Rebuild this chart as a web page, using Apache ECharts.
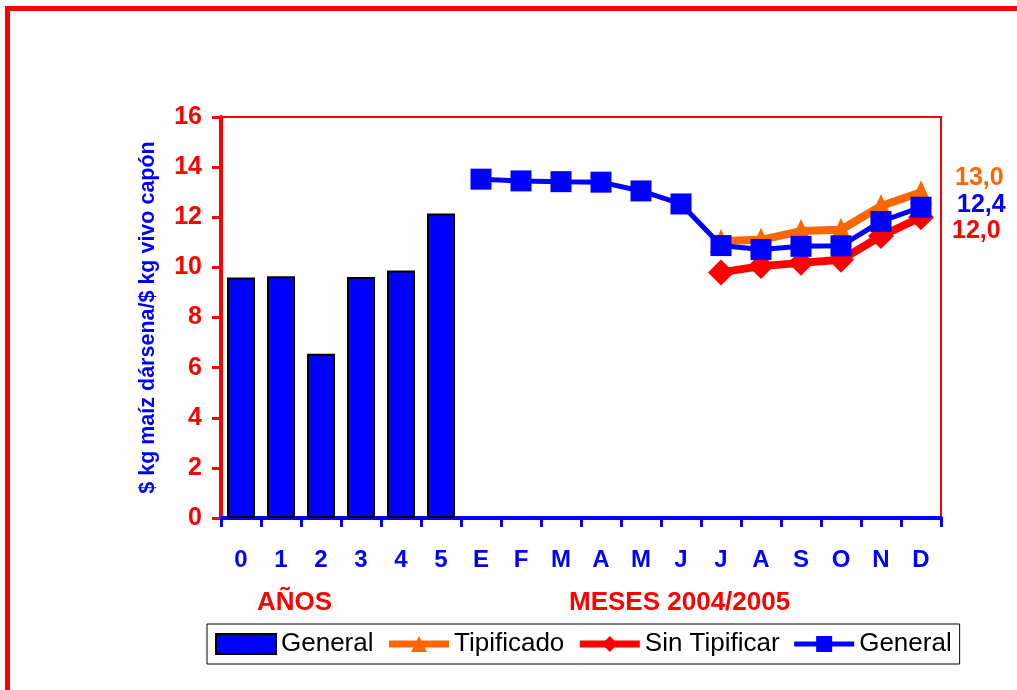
<!DOCTYPE html>
<html><head><meta charset="utf-8">
<script src="https://cdn.jsdelivr.net/npm/echarts@6/dist/echarts.min.js"></script>
<style>html,body{margin:0;padding:0;background:#fff}#c{width:1017px;height:690px}</style>
</head><body><div id="c"></div>
<script>
// ---- data ----
const yearCats = ['0', '1', '2', '3', '4', '5'];
const monthCats = ['E', 'F', 'M', 'A', 'M', 'J', 'J', 'A', 'S', 'O', 'N', 'D'];
const yearGeneral = [9.6, 9.65, 6.55, 9.62, 9.88, 12.15];
const monthGeneral = [13.52, 13.45, 13.42, 13.4, 13.05, 12.53, 10.87, 10.71, 10.84, 10.86, 11.83, 12.4];
const monthTipificado = [null, null, null, null, null, null, 11.05, 11.1, 11.45, 11.5, 12.45, 13.0];
const monthSinTipificar = [null, null, null, null, null, null, 9.8, 10.05, 10.18, 10.3, 11.25, 12.0];
const seriesNames = ['General', 'Tipificado', 'Sin Tipificar', 'General'];
const yAxisName = '$ kg maíz dársena/$ kg vivo capón';
const groupLabels = ['AÑOS', 'MESES 2004/2005'];

// ---- build ----
const categories = yearCats.concat(monthCats);
const pad = (n) => new Array(n).fill(null);
const barData = yearGeneral.concat(pad(monthCats.length));
const genLine = pad(yearCats.length).concat(monthGeneral);
const tipLine = pad(yearCats.length).concat(monthTipificado);
const sinLine = pad(yearCats.length).concat(monthSinTipificar);
const lineName = seriesNames[3] + '\u200b';
const fmt = (v) => v.toFixed(1).replace('.', ',');
const lastOf = (a) => a[a.length - 1];

const FONT = '"Liberation Sans", Arial, sans-serif';
const BLUE = '#0000FF', RED = '#FF0000', ORANGE = '#FF6600';

const chart = echarts.init(document.getElementById('c'), null, {renderer: 'canvas'});
chart.setOption({
  backgroundColor: '#ffffff',
  animation: false,
  textStyle: {fontFamily: FONT},
  grid: {left: 221, right: 76, top: 117, bottom: 172, show: true, borderColor: RED, borderWidth: 2, backgroundColor: 'transparent'},
  legend: {
    left: 207, top: 624,
    orient: 'horizontal',
    itemWidth: 60, itemHeight: 20, itemGap: 12,
    padding: [7, 8, 7, 8],
    borderColor: '#000', borderWidth: 1,
    textStyle: {fontSize: 26, color: '#000', fontFamily: FONT},
    data: [
      {name: seriesNames[0], icon: 'rect'},
      {name: seriesNames[1], lineStyle: {width: 7, color: ORANGE}},
      {name: seriesNames[2], lineStyle: {width: 7, color: RED}},
      {name: lineName, lineStyle: {width: 5, color: BLUE}}
    ]
  },
  xAxis: {
    type: 'category',
    data: categories,
    boundaryGap: true,
    axisLine: {lineStyle: {color: BLUE, width: 4}},
    axisTick: {show: true, length: 9, lineStyle: {color: BLUE, width: 3}},
    axisLabel: {color: BLUE, fontSize: 24, fontWeight: 'bold', margin: 30, interval: 0, fontFamily: FONT},
    splitLine: {show: false}
  },
  yAxis: {
    type: 'value',
    min: 0, max: 16, interval: 2,
    name: yAxisName,
    nameLocation: 'middle',
    nameGap: 62,
    nameTextStyle: {color: BLUE, fontSize: 21.5, fontWeight: 'bold', fontFamily: FONT},
    axisLine: {show: true, lineStyle: {color: RED, width: 4}},
    axisTick: {show: true, length: 9, lineStyle: {color: RED, width: 3}},
    axisLabel: {color: RED, fontSize: 25, fontWeight: 'bold', margin: 19, fontFamily: FONT},
    splitLine: {show: false}
  },
  series: [
    {
      name: seriesNames[0], type: 'bar', data: barData, barWidth: 28,
      itemStyle: {color: BLUE, borderColor: '#000', borderWidth: 2},
      z: 2
    },
    {
      name: seriesNames[1], type: 'line', data: tipLine,
      symbol: 'triangle', symbolSize: [22, 24],
      lineStyle: {color: ORANGE, width: 8},
      itemStyle: {color: ORANGE},
      z: 3
    },
    {
      name: seriesNames[2], type: 'line', data: sinLine,
      symbol: 'diamond', symbolSize: [26, 26],
      lineStyle: {color: RED, width: 8},
      itemStyle: {color: RED},
      z: 4
    },
    {
      name: lineName, type: 'line', data: genLine,
      symbol: 'rect', symbolSize: 21,
      lineStyle: {color: BLUE, width: 5},
      itemStyle: {color: BLUE},
      z: 5
    }
  ],
  graphic: [
    {type: 'rect', z: -1, silent: true, shape: {x: 7.5, y: 8.5, width: 1100, height: 800},
      style: {fill: 'none', stroke: RED, lineWidth: 5}},
    {type: 'text', left: 257, top: 590, silent: true,
      style: {text: groupLabels[0], fill: RED, font: 'bold 26px ' + FONT}},
    {type: 'text', left: 569, top: 590, silent: true,
      style: {text: groupLabels[1], fill: RED, font: 'bold 26px ' + FONT}},
    {type: 'text', left: 955, top: 166, silent: true,
      style: {text: fmt(lastOf(monthTipificado)), fill: ORANGE, font: 'bold 25px ' + FONT}},
    {type: 'text', left: 957, top: 193, silent: true,
      style: {text: fmt(lastOf(monthGeneral)), fill: BLUE, font: 'bold 25px ' + FONT}},
    {type: 'text', left: 952, top: 219, silent: true,
      style: {text: fmt(lastOf(monthSinTipificar)), fill: RED, font: 'bold 25px ' + FONT}}
  ]
});
</script>
</body></html>
